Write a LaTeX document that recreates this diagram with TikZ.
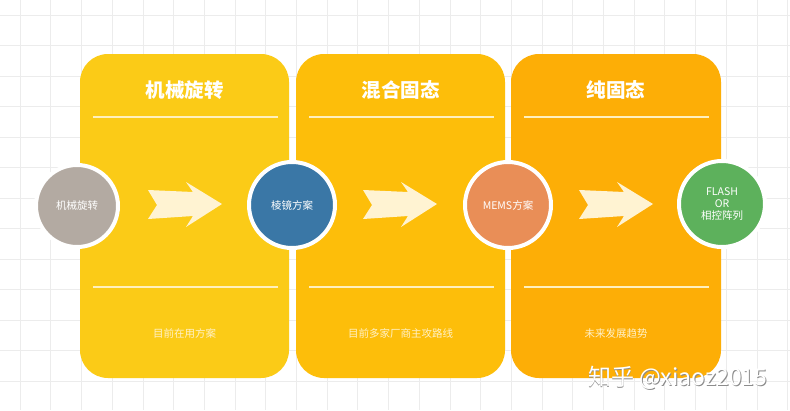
\documentclass[tikz,border=0pt]{standalone}
\usepackage{fontspec}
\setmainfont{Noto Sans CJK SC}
\newfontfamily\cjkfont{Noto Sans CJK SC}
\definecolor{gridc}{HTML}{ECECEC}
\definecolor{pA}{HTML}{FBCB17}
\definecolor{pB}{HTML}{FDBE0A}
\definecolor{pC}{HTML}{FDAE06}
\definecolor{cream}{HTML}{FFF3D2}
\definecolor{lineC}{HTML}{FFF0BE}
\definecolor{cGray}{HTML}{B3AAA2}
\definecolor{cBlue}{HTML}{3A77A6}
\definecolor{cOrange}{HTML}{E98E57}
\definecolor{cGreen}{HTML}{5DB15C}
\definecolor{subC}{HTML}{FFF1C8}
\begin{document}
\begin{tikzpicture}[x=1pt,y=-1pt,
  panel/.style={fill=#1, rounded corners=28pt},
  sepline/.style={draw=lineC, line width=1.3pt},
  title/.style={font=\cjkfont\bfseries\fontsize{19.5}{22}\selectfont, text=white},
  sub/.style={font=\cjkfont\fontsize{10.5}{12}\selectfont, text=subC},
  stage/.style={circle, draw=white, line width=4pt, fill=#1, minimum size=86pt, inner sep=0pt,
     font=\cjkfont\fontsize{10.5}{13}\selectfont, text=white, align=center},
  arrowshape/.style={fill=cream},
  wmark/.style={font=\cjkfont\fontsize{23}{26}\selectfont, anchor=east}
]
\useasboundingbox (0,0) rectangle (790,410);
\fill[white] (0,0) rectangle (790,410);
% grid
\foreach \i in {0,...,25} \draw[gridc, line width=0.6pt] ({20+30.7*\i},0) -- ({20+30.7*\i},410);
\foreach \j in {0,...,13} \draw[gridc, line width=0.6pt] (0,{15+30.5*\j}) -- (790,{15+30.5*\j});
% panels
\fill[panel=pA] (80,54) rectangle (289,378);
\fill[panel=pB] (296,54) rectangle (505,378);
\fill[panel=pC] (511,54) rectangle (721,378);
% separator lines
\foreach \x in {0,216,431} {
  \draw[sepline] ({93+\x},117) -- ({278+\x},117);
  \draw[sepline] ({93+\x},287) -- ({278+\x},287);
}
% titles
\node[title] (t1) at (184.5,90) {机械旋转};
\node[title] (t2) at (400.5,90) {混合固态};
\node[title] (t3) at (616,90) {纯固态};
% subtitles
\node[sub] (s1) at (184.5,333) {目前在用方案};
\node[sub] (s2) at (400.5,333) {目前多家厂商主攻路线};
\node[sub] (s3) at (616,333) {未来发展趋势};
% arrows
\foreach \x in {0,215,431} {
  \fill[arrowshape] ({148+\x},190) -- ({193+\x},192) -- ({186+\x},182) -- ({222+\x},204)
     -- ({186+\x},227) -- ({193+\x},216) -- ({148+\x},219) -- ({157+\x},205) -- cycle;
}
% circles
\node[stage=cGray, minimum size=82pt] (c1) at (77,206) {机械旋转};
\node[stage=cBlue] (c2) at (292,205) {棱镜方案};
\node[stage=cOrange] (c3) at (508,205) {MEMS方案};
\node[stage=cGreen] (c4) at (722,204) {FLASH\\[-1pt]OR\\[-1pt]相控阵列};
% watermark
\node[wmark, text=black!45] (wm0) at (771.9,378.9) {知乎 @xiaoz2015};
\node[wmark, text=white] (wm) at (771,378) {知乎 @xiaoz2015};
\end{tikzpicture}
\end{document}
